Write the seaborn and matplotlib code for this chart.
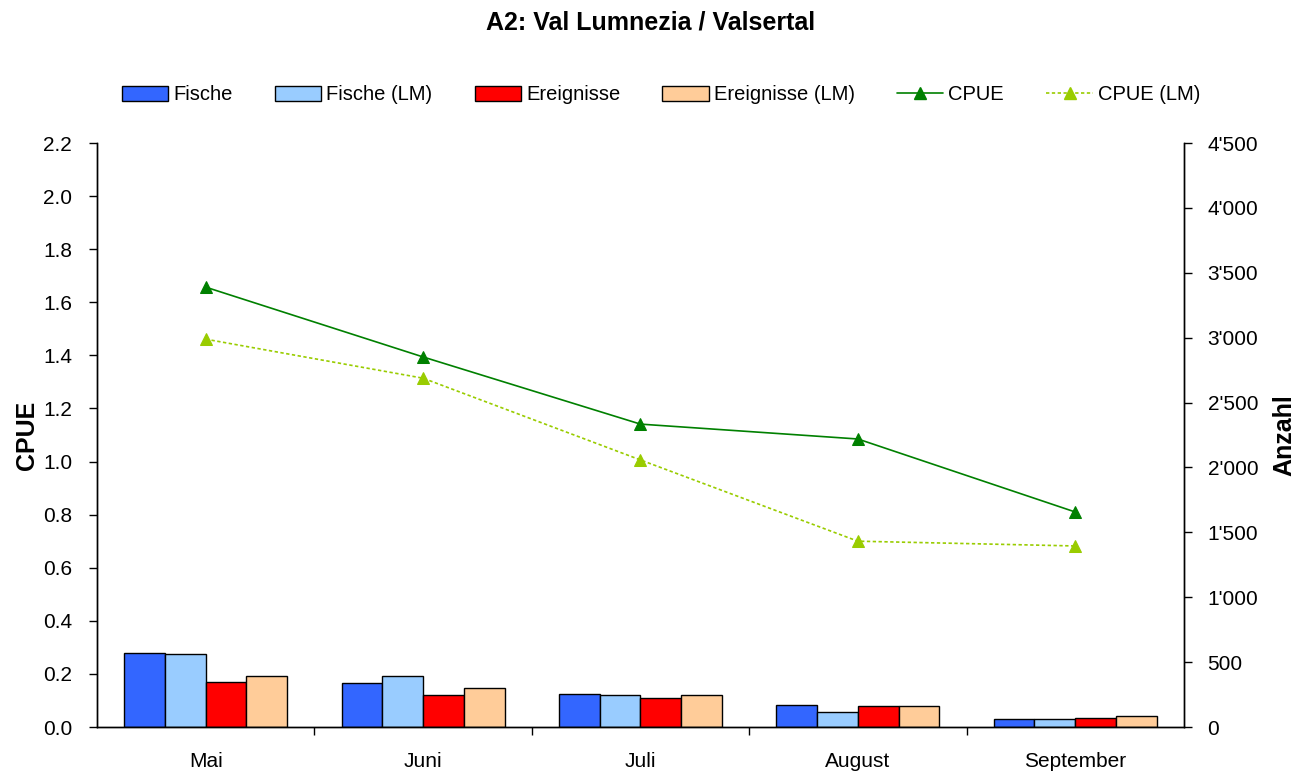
import numpy as np
import pandas as pd
import matplotlib
matplotlib.use('Agg')
import matplotlib.pyplot as plt
import seaborn as sns
from matplotlib.patches import Patch
from matplotlib.lines import Line2D
from matplotlib.ticker import FuncFormatter, FixedLocator

# data
months = ['Mai', 'Juni', 'Juli', 'August', 'September']
fische = [570, 339, 258, 173, 59]
fische_lm = [560, 393, 246, 112, 59]
ereignisse = [350, 246, 227, 162, 69]
ereignisse_lm = [393, 300, 246, 162, 82]
cpue = [1.657, 1.394, 1.141, 1.085, 0.81]
cpue_lm = [1.461, 1.314, 1.006, 0.70, 0.682]

bar_series = ['Fische', 'Fische (LM)', 'Ereignisse', 'Ereignisse (LM)']
bar_colors = ['#3366FF', '#99CCFF', '#FF0000', '#FFCC99']
line_colors = ['#008000', '#99CC00']

df = pd.DataFrame({
    'Monat': months * 4,
    'Serie': np.repeat(bar_series, len(months)),
    'Anzahl': fische + fische_lm + ereignisse + ereignisse_lm,
})

sns.set_style('ticks')
plt.rcParams['font.family'] = ['Liberation Sans', 'DejaVu Sans']
plt.rcParams['text.color'] = 'black'
plt.rcParams['axes.labelcolor'] = 'black'
plt.rcParams['xtick.color'] = 'black'
plt.rcParams['ytick.color'] = 'black'

fig, ax = plt.subplots(figsize=(13.01, 7.73), dpi=100)
fig.subplots_adjust(left=0.0746, right=0.910, bottom=0.0595, top=0.815)
ax2 = ax.twinx()

# bars on the right axis (Anzahl)
sns.barplot(data=df, x='Monat', y='Anzahl', hue='Serie', order=months,
            hue_order=bar_series, palette=bar_colors, saturation=1,
            width=0.75, gap=0, edgecolor='black', linewidth=1,
            legend=False, ax=ax2)

# CPUE lines on the left axis
x = np.arange(len(months))
sns.lineplot(x=x, y=cpue, color=line_colors[0], marker='^', markersize=9,
             markeredgecolor=line_colors[0], linewidth=1.2, ax=ax)
sns.lineplot(x=x, y=cpue_lm, color=line_colors[1], marker='^', markersize=9,
             markeredgecolor=line_colors[1], linewidth=1.2, linestyle=(0, (2, 1.5)), ax=ax)

ax.set_zorder(ax2.get_zorder() + 1)
ax.patch.set_visible(False)

ax.set_xlim(-0.5, len(months) - 0.5)
ax.set_ylim(0, 2.2)
ax.set_yticks(np.arange(0, 2.21, 0.2))
ax.yaxis.set_major_formatter(FuncFormatter(lambda v, p: f'{v:.1f}'))
ax2.set_ylim(0, 4500)
ax2.set_yticks(np.arange(0, 4501, 500))
ax2.yaxis.set_major_formatter(FuncFormatter(lambda v, p: f'{int(v):,}'.replace(',', "'")))

ax.set_xticks(x)
ax.set_xticklabels(months)
ax.xaxis.set_minor_locator(FixedLocator(x[:-1] + 0.5))
ax.tick_params(axis='x', which='major', length=0, pad=18, labelsize=15)
ax.tick_params(axis='x', which='minor', length=6, width=1, direction='out')
ax.tick_params(axis='y', length=6, width=1, direction='out', labelsize=15, pad=12)
ax2.tick_params(axis='y', length=6, width=1, direction='out', labelsize=15, pad=11)
ax2.set_xlabel('')

for a in (ax, ax2):
    a.spines['top'].set_visible(False)
    for s in ('left', 'right', 'bottom'):
        a.spines[s].set_color('black')
        a.spines[s].set_linewidth(1)

ax.set_xlabel('')
ax.set_ylabel('CPUE', fontsize=18, fontweight='bold', labelpad=3)
ax2.set_ylabel('Anzahl', fontsize=18, fontweight='bold', labelpad=10)

fig.text(0.5, 1 - 22 / 773, 'A2: Val Lumnezia / Valsertal', ha='center', va='center',
         fontsize=18, fontweight='bold')

handles = [Patch(facecolor=c, edgecolor='black', linewidth=1) for c in bar_colors]
handles.append(Line2D([], [], color=line_colors[0], marker='^', markersize=9, linewidth=1.2))
handles.append(Line2D([], [], color=line_colors[1], marker='^', markersize=9, linewidth=1.2,
                      linestyle=(0, (2, 1.5))))
labels = bar_series + ['CPUE', 'CPUE (LM)']
fig.legend(handles, labels, loc='center', bbox_to_anchor=(0.508, 1 - 95 / 773), ncol=6,
           frameon=False, fontsize=14.5, handlelength=2.3, handleheight=0.7,
           handletextpad=0.25, columnspacing=2.1)

fig.savefig('out.png', dpi=100)
